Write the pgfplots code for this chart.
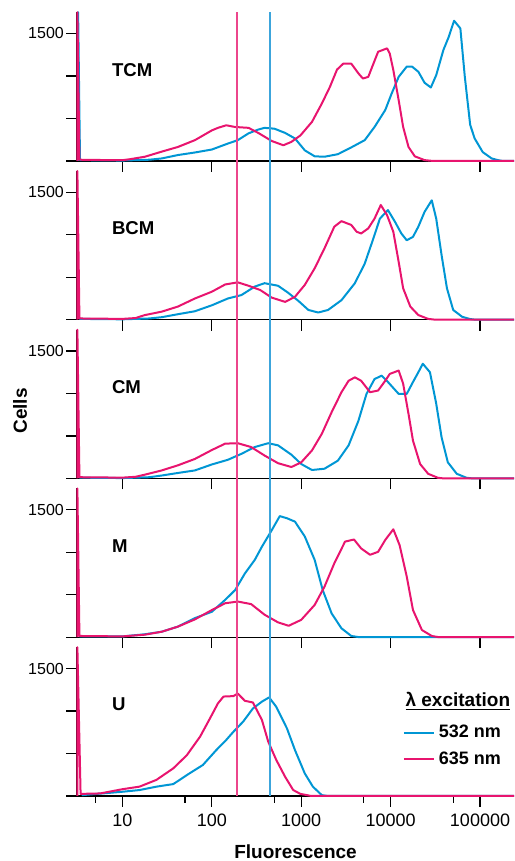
\documentclass[border=0pt]{standalone}
\usepackage{fontspec}
\setmainfont{Liberation Sans}
\usepackage{pgfplots}
\pgfplotsset{compat=1.18}
\definecolor{cblue}{RGB}{0,150,212}
\definecolor{cpink}{RGB}{232,20,110}
\definecolor{rpink}{RGB}{236,70,140}
\definecolor{rblue}{RGB}{60,165,220}

\pgfplotsset{
  every axis/.append style={
    scale only axis, width=218.5pt, height=74.375pt,
    xmode=log, xmin=3.1, xmax=240000, ymin=0, ymax=1750,
    axis x line=bottom, axis y line=left,
    axis line style={-, line width=0.6pt, black},
    clip=false,
    ytick={0,500,1000,1500}, yticklabels={,,,1500},
    xtick={10,100,1000,10000,100000}, xticklabels={}, xminorticks=false,
    tick align=outside, major tick length=5.4pt, minor tick length=3.3pt,
    tick style={black, line width=0.6pt},
    yticklabel style={font=\fontsize{8}{9}\selectfont, inner sep=1pt},
    xticklabel style={font=\fontsize{9}{10}\selectfont},
    anchor=south west,
    /pgf/number format/assume math mode=true,
  },
}
\tikzset{
  blueline/.style={draw=cblue, line width=1pt, line join=round},
  pinkline/.style={draw=cpink, line width=1pt, line join=round},
  pinkref/.style={draw=rpink, line width=0.75pt},
  blueref/.style={draw=rblue, line width=0.75pt},
  plabel/.style={anchor=west, font=\bfseries\fontsize{9.3}{11}\selectfont},
}

\begin{document}
\begin{tikzpicture}
\path[use as bounding box] (0,0) rectangle (257pt,430.5pt);

% TCM
\begin{axis}[at={(38.5pt,350pt)}]
  \addplot[blueline] coordinates {(3.18,0)(3.19,1750)(3.35,10)(10,5)(20,15)(27.5,30)(41.7,70)(64.6,100)(100,135)(151,205)(195,245)(257,325)(331,370)(389,390)(501,380)(661,330)(851,265)(1096,125)(1413,55)(1820,50)(2570,80)(3631,160)(5129,245)(6607,400)(8710,600)(10233,790)(12303,990)(15136,1110)(17378,1110)(20417,1050)(23988,920)(28184,865)(32359,1010)(38905,1305)(44668,1460)(51286,1650)(60256,1560)(67608,990)(77625,425)(87096,265)(107152,105)(134896,30)(158489,10)(180000,0)(240000,0)};
  \addplot[pinkline] coordinates {(3.12,0)(3.13,1750)(3.3,15)(5,12)(10,10)(12,20)(17.8,50)(27.5,110)(41.7,165)(64.6,245)(100,360)(117,390)(145,420)(182,400)(257,390)(331,330)(468,235)(631,185)(776,225)(977,300)(1318,460)(1698,675)(2089,870)(2512,1075)(2951,1145)(3631,1145)(4365,1030)(4898,970)(5623,990)(6310,1125)(7244,1285)(9120,1325)(9772,1265)(10715,1070)(12303,715)(13804,400)(15849,165)(18621,55)(23988,10)(30000,0)(240000,0)};
  \addplot[pinkref, forget plot] coordinates {(191,-118) (191,1750)};
  \addplot[blueref, forget plot] coordinates {(447,-118) (447,1750)};
  \node[plabel] at (rel axis cs:0.064,0.614) {TCM};
\end{axis}

% BCM
\begin{axis}[at={(38.5pt,270.625pt)}]
  \addplot[blueline] coordinates {(3.3,10)(10,5)(20,15)(27.5,30)(41.7,65)(64.6,100)(100,170)(151,250)(214,290)(302,390)(389,430)(550,400)(708,320)(933,220)(1202,115)(1549,85)(1995,115)(2818,230)(3981,430)(5129,660)(6310,935)(7586,1190)(9333,1290)(11220,1150)(13183,1015)(15136,935)(17783,975)(20417,1095)(23988,1270)(28840,1405)(32359,1190)(37154,760)(42658,370)(50119,115)(63096,35)(77625,8)(90000,0)(240000,0)};
  \addplot[pinkline] coordinates {(3.12,0)(3.13,1750)(3.3,15)(10,10)(14,20)(17.8,55)(27.5,95)(41.7,155)(64.6,250)(100,330)(141,415)(195,440)(257,400)(347,350)(468,260)(661,210)(851,270)(1096,410)(1413,605)(1820,840)(2344,1095)(2818,1160)(3631,1115)(4169,1035)(4677,1015)(5623,1075)(6607,1190)(7762,1350)(9120,1230)(10715,1035)(12303,680)(13804,370)(16596,155)(20417,55)(26303,10)(32000,0)(240000,0)};
  \addplot[pinkref, forget plot] coordinates {(191,-118) (191,1750)};
  \addplot[blueref, forget plot] coordinates {(447,-118) (447,1750)};
  \node[plabel] at (rel axis cs:0.064,0.614) {BCM};
\end{axis}

% CM
\begin{axis}[at={(38.5pt,191.25pt)}]
  \addplot[blueline] coordinates {(3.3,10)(10,5)(20,15)(27.5,35)(41.7,65)(64.6,95)(100,165)(151,220)(214,290)(302,370)(427,415)(550,390)(776,280)(1000,170)(1318,100)(1820,115)(2570,210)(3388,390)(4365,680)(5370,995)(6607,1170)(7943,1210)(9333,1135)(12303,995)(15136,995)(17783,1135)(20417,1250)(22909,1350)(27542,1250)(32359,880)(37154,485)(43652,190)(54954,55)(70795,8)(85000,0)(240000,0)};
  \addplot[pinkline] coordinates {(3.12,0)(3.13,1750)(3.3,15)(10,10)(14,20)(17.8,45)(27.5,95)(41.7,155)(64.6,230)(100,335)(141,410)(195,415)(275,370)(389,270)(550,180)(776,135)(1000,190)(1318,330)(1698,525)(2188,780)(2818,1015)(3388,1150)(3981,1190)(4677,1150)(5888,1015)(7244,1035)(8710,1150)(9772,1230)(12303,1270)(13804,1115)(15849,760)(17783,445)(21380,170)(26303,55)(33884,8)(40000,0)(240000,0)};
  \addplot[pinkref, forget plot] coordinates {(191,-118) (191,1750)};
  \addplot[blueref, forget plot] coordinates {(447,-118) (447,1750)};
  \node[plabel] at (rel axis cs:0.064,0.614) {CM};
\end{axis}

% M
\begin{axis}[at={(38.5pt,111.875pt)}]
  \addplot[blueline] coordinates {(3.3,10)(10,10)(17.8,35)(27.5,65)(41.7,125)(64.6,225)(100,300)(141,440)(182,555)(234,750)(302,910)(363,1065)(468,1260)(575,1425)(692,1400)(851,1360)(1096,1185)(1413,910)(1738,555)(2188,280)(2818,105)(3631,15)(4500,0)(240000,0)};
  \addplot[pinkline] coordinates {(3.12,0)(3.13,1750)(3.3,15)(10,10)(17.8,30)(27.5,65)(41.7,125)(64.6,210)(100,320)(141,400)(195,420)(275,390)(389,265)(550,175)(724,135)(1000,205)(1413,380)(1820,595)(2344,870)(3090,1125)(3890,1150)(4677,1045)(5888,970)(7244,1005)(8710,1145)(10715,1270)(12589,1085)(15136,715)(17783,320)(22387,85)(28840,15)(35000,0)(240000,0)};
  \addplot[pinkref, forget plot] coordinates {(191,-118) (191,1750)};
  \addplot[blueref, forget plot] coordinates {(447,-118) (447,1750)};
  \node[plabel] at (rel axis cs:0.064,0.614) {M};
\end{axis}

% U
\begin{axis}[at={(38.5pt,32.5pt)},
  xticklabels={10,100,1000,10000,100000},
  xminorticks=true,
  minor xtick={5,50,500,5000,50000},
  xlabel={Fluorescence},
  xlabel style={font=\bfseries\fontsize{9.5}{11}\selectfont, at={(axis description cs:0.5,0)}, anchor=center, yshift=-27.8pt},
  legend style={at={(rel axis cs:0.745,0.335)}, anchor=west, draw=none, fill=none,
    font=\bfseries\fontsize{9}{10}\selectfont, row sep=1.5pt, inner sep=0pt},
  legend cell align=left,
  legend image code/.code={\draw[#1] (0pt,0pt) -- (15pt,0pt);},
]
  \addplot[blueline] coordinates {(3.5,10)(10,50)(15.5,70)(24,110)(37,140)(56,265)(79.4,365)(112,540)(145,660)(174,755)(224,875)(288,1030)(363,1110)(437,1160)(525,1050)(692,795)(851,540)(1096,265)(1349,110)(1698,10)(2000,0)(240000,0)};
  \addlegendentry{532 nm}
  \addplot[pinkline] coordinates {(3.12,0)(3.13,1750)(3.4,25)(5.62,30)(10,80)(15.5,110)(24,190)(37,325)(52.5,480)(74,700)(95.5,915)(117,1090)(135,1170)(174,1175)(195,1205)(234,1120)(288,1100)(363,895)(427,640)(525,425)(661,225)(813,70)(977,25)(1300,0)(240000,0)};
  \addlegendentry{635 nm}
  \addplot[pinkref, forget plot] coordinates {(191,0) (191,1750)};
  \addplot[blueref, forget plot] coordinates {(447,0) (447,1750)};
  \node[plabel] at (rel axis cs:0.064,0.614) {U};
  \node[anchor=west, inner sep=0pt, font=\bfseries\fontsize{9.5}{11}\selectfont] at (rel axis cs:0.751,0.634) {\underline{λ excitation}};
\end{axis}

\node[rotate=90, font=\bfseries\fontsize{9.5}{11}\selectfont] at (10pt,225pt) {Cells};
\end{tikzpicture}
\end{document}
